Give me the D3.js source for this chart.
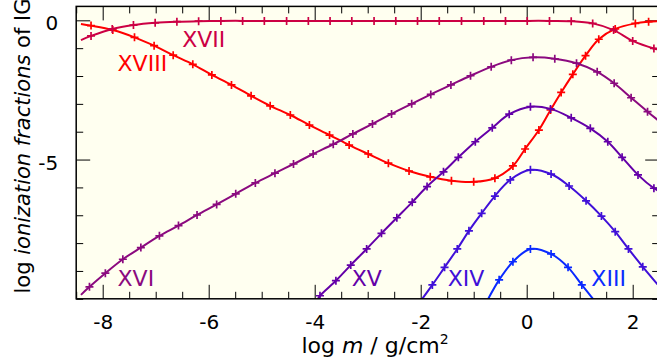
<!DOCTYPE html>
<html>
<head>
<meta charset="utf-8">
<script src="https://cdn.jsdelivr.net/npm/d3@7/dist/d3.min.js"></script>
<style>
  html, body { margin: 0; padding: 0; background: #ffffff; }
  svg { display: block; }
  text { font-family: "DejaVu Sans", sans-serif; }
</style>
</head>
<body>
<svg id="chart" width="657" height="360"></svg>
<script>
// ---- data: log m (g/cm^2) vs log ionization fraction, one array per ion ----
const xMajorTicks = [-8, -6, -4, -2, 0, 2];
const xTickLabels = ["-8", "-6", "-4", "-2", "0", "2"];
const yMajorTicks = [0, -5];
const yTickLabels = ["0", "-5"];

const ionNames = ["XVIII", "XVII", "XVI", "XV", "XIV", "XIII"];

const ionXVIII = [
  [-8.41, -0.13], [-8.22, -0.19], [-7.81, -0.35], [-7.40, -0.61], [-7.03, -0.91],
  [-6.67, -1.25], [-6.30, -1.58], [-5.94, -1.96], [-5.57, -2.32], [-5.20, -2.71],
  [-4.84, -3.07], [-4.46, -3.40], [-4.10, -3.76], [-3.72, -4.12], [-3.35, -4.48],
  [-2.99, -4.80], [-2.61, -5.13], [-2.22, -5.41], [-1.82, -5.62], [-1.42, -5.76],
  [-1.00, -5.80], [-0.60, -5.67], [-0.26, -5.23], [-0.03, -4.62], [0.23, -3.94],
  [0.45, -3.22], [0.65, -2.59], [0.87, -1.94], [1.11, -1.27], [1.36, -0.68],
  [1.67, -0.31], [2.05, -0.11], [2.30, -0.05], [2.50, -0.03]
];
const ionXVII = [
  [-8.41, -0.71], [-8.22, -0.56], [-7.82, -0.31], [-7.42, -0.17], [-7.01, -0.09],
  [-6.60, -0.05], [-6.19, -0.03], [-5.77, -0.02], [-5.36, -0.02], [-4.95, -0.02],
  [-4.53, -0.02], [-4.12, -0.02], [-3.71, -0.02], [-3.30, -0.02], [-2.88, -0.02],
  [-2.47, -0.02], [-2.06, -0.02], [-1.65, -0.02], [-1.23, -0.02], [-0.81, -0.02],
  [-0.40, -0.02], [0.01, -0.02], [0.43, -0.02], [0.84, -0.03], [1.245, -0.11],
  [1.64, -0.35], [2.00, -0.74], [2.40, -1.01], [2.50, -1.05]
];
const ionXVI = [
  [-8.41, -9.86], [-8.25, -9.57], [-7.95, -9.08], [-7.62, -8.58], [-7.28, -8.16],
  [-6.93, -7.74], [-6.57, -7.37], [-6.22, -6.99], [-5.85, -6.61], [-5.49, -6.23],
  [-5.12, -5.84], [-4.75, -5.49], [-4.40, -5.16], [-4.03, -4.80], [-3.65, -4.45],
  [-3.28, -4.08], [-2.91, -3.72], [-2.55, -3.36], [-2.17, -3.00], [-1.81, -2.66],
  [-1.43, -2.32], [-1.06, -1.99], [-0.67, -1.67], [-0.29, -1.43], [0.12, -1.33],
  [0.53, -1.38], [0.94, -1.54], [1.33, -1.85], [1.65, -2.26], [1.97, -2.78],
  [2.28, -3.28], [2.50, -3.62]
];
const ionXV = [
  [-3.95, -10.05], [-3.90, -9.89], [-3.60, -9.35], [-3.32, -8.79], [-3.02, -8.21],
  [-2.74, -7.65], [-2.45, -7.09], [-2.16, -6.53], [-1.88, -5.97], [-1.57, -5.44],
  [-1.29, -4.92], [-0.97, -4.36], [-0.65, -3.86], [-0.33, -3.37], [0.07, -3.10],
  [0.45, -3.18], [0.84, -3.50], [1.20, -3.88], [1.53, -4.36], [1.80, -4.92],
  [2.10, -5.55], [2.40, -6.03], [2.50, -6.14]
];
const ionXIV = [
  [-1.99, -10.05], [-1.78, -9.50], [-1.55, -8.87], [-1.31, -8.21], [-1.09, -7.56],
  [-0.85, -6.93], [-0.60, -6.31], [-0.31, -5.73], [0.07, -5.37], [0.46, -5.52],
  [0.80, -5.95], [1.12, -6.48], [1.41, -7.03], [1.67, -7.59], [1.92, -8.21],
  [2.19, -8.85], [2.50, -9.55]
];
const ionXIII = [
  [-0.74, -10.05], [-0.52, -9.32], [-0.26, -8.67], [0.07, -8.21], [0.46, -8.39],
  [0.78, -8.87], [1.04, -9.50], [1.27, -10.05]
];

// label anchors (data units) for each ion name
const ionLabelAt = [
  [-7.72, -1.81], [-6.50, -0.94], [-7.72, -9.54], [-3.30, -9.54], [-1.49, -9.54], [1.22, -9.54]
];

// ---- styling ----
const ionColors = ["#ff0000", "#cc0044", "#8b0a7f", "#6400a8", "#4010d8", "#0a2aff"];
const series = [ionXVIII, ionXVII, ionXVI, ionXV, ionXIV, ionXIII];

const W = 657, H = 360;
const plotLeft = 76.2, plotRight = 659.2, plotTop = 6.4, plotBottom = 298.8;

const x = d3.scaleLinear().domain([-8.5, 2.5]).range([plotLeft, plotRight]);
const y = d3.scaleLinear().domain([-10, 0.5]).range([plotBottom, plotTop]);

const svg = d3.select("#chart");

svg.append("rect").attr("x", 0).attr("y", 0).attr("width", W).attr("height", H).attr("fill", "#ffffff");
svg.append("rect")
  .attr("x", plotLeft).attr("y", plotTop)
  .attr("width", plotRight - plotLeft).attr("height", plotBottom - plotTop)
  .attr("fill", "#fffff0");

svg.append("clipPath").attr("id", "plotclip")
  .append("rect")
  .attr("x", plotLeft).attr("y", plotTop)
  .attr("width", plotRight - plotLeft).attr("height", plotBottom - plotTop);

// ---- axes: inward ticks on all four sides ----
const xMinor = d3.range(-8.5, 2.51, 0.5).filter(v => !xMajorTicks.includes(v));
const yMinor = d3.range(-10, 0.01, 1).filter(v => !yMajorTicks.includes(v));

function styleAxis(g) {
  g.select(".domain").remove();
  g.selectAll(".tick line").attr("stroke", "#000").attr("stroke-width", 1);
}

// bottom
svg.append("g").attr("transform", `translate(0,${plotBottom})`)
  .call(d3.axisBottom(x).tickValues(xMinor).tickSize(-7).tickFormat(""))
  .call(styleAxis);
const xAxisMajor = svg.append("g").attr("transform", `translate(0,${plotBottom})`)
  .call(d3.axisBottom(x).tickValues(xMajorTicks).tickSize(-14).tickPadding(16)
        .tickFormat((d, i) => xTickLabels[i]))
  .call(styleAxis);
xAxisMajor.selectAll("text").attr("font-family", "DejaVu Sans").attr("font-size", 20).attr("fill", "#000");

// top
svg.append("g").attr("transform", `translate(0,${plotTop})`)
  .call(d3.axisTop(x).tickValues(xMinor).tickSize(-7).tickFormat(""))
  .call(styleAxis);
svg.append("g").attr("transform", `translate(0,${plotTop})`)
  .call(d3.axisTop(x).tickValues(xMajorTicks).tickSize(-14).tickFormat(""))
  .call(styleAxis);

// left
svg.append("g").attr("transform", `translate(${plotLeft},0)`)
  .call(d3.axisLeft(y).tickValues(yMinor).tickSize(-7).tickFormat(""))
  .call(styleAxis);
const yAxisMajor = svg.append("g").attr("transform", `translate(${plotLeft},0)`)
  .call(d3.axisLeft(y).tickValues(yMajorTicks).tickSize(-14).tickPadding(18)
        .tickFormat((d, i) => yTickLabels[i]))
  .call(styleAxis);
yAxisMajor.selectAll("text").attr("font-family", "DejaVu Sans").attr("font-size", 20)
  .attr("fill", "#000").attr("dy", "0.48em");

// right
svg.append("g").attr("transform", `translate(${plotRight},0)`)
  .call(d3.axisRight(y).tickValues(yMinor).tickSize(-7).tickFormat(""))
  .call(styleAxis);
svg.append("g").attr("transform", `translate(${plotRight},0)`)
  .call(d3.axisRight(y).tickValues(yMajorTicks).tickSize(-14).tickFormat(""))
  .call(styleAxis);

// ---- curves with + markers ----
const line = d3.line()
  .x(d => x(d[0])).y(d => y(d[1]))
  .curve(d3.curveCatmullRom.alpha(0.5));

const curves = svg.append("g").attr("clip-path", "url(#plotclip)");

series.forEach((pts, i) => {
  const g = curves.append("g");
  g.append("path")
    .attr("d", line(pts))
    .attr("fill", "none")
    .attr("stroke", ionColors[i])
    .attr("stroke-width", 2)
    .attr("stroke-linejoin", "round");
  // sample points (line ends excluded) carry a + marker
  g.selectAll("path.mark")
    .data(pts.slice(1, -1))
    .join("path")
    .attr("class", "mark")
    .attr("transform", d => `translate(${x(d[0])},${y(d[1])})`)
    .attr("d", "M-4,0H4M0,-4V4")
    .attr("stroke", ionColors[i])
    .attr("stroke-width", 1.7)
    .attr("fill", "none");
});

// ion labels
svg.append("g").selectAll("text")
  .data(ionNames)
  .join("text")
  .attr("x", (d, i) => x(ionLabelAt[i][0]))
  .attr("y", (d, i) => y(ionLabelAt[i][1]))
  .attr("font-size", 22)
  .attr("fill", (d, i) => ionColors[i])
  .text(d => d);

// frame
svg.append("rect")
  .attr("x", plotLeft).attr("y", plotTop)
  .attr("width", plotRight - plotLeft).attr("height", plotBottom - plotTop)
  .attr("fill", "none").attr("stroke", "#000").attr("stroke-width", 1.5);

// axis titles
const xt = svg.append("text")
  .attr("x", 375).attr("y", 353)
  .attr("text-anchor", "middle")
  .attr("font-size", 22).attr("fill", "#000");
xt.append("tspan").text("log ");
xt.append("tspan").attr("font-style", "italic").text("m");
xt.append("tspan").text(" / g/cm");
xt.append("tspan").attr("font-size", 14).attr("dy", -9).text("2");

const yt = svg.append("text")
  .attr("transform", "translate(30,293.5) rotate(-90)")
  .attr("text-anchor", "start")
  .attr("font-size", 21).attr("fill", "#000");
yt.append("tspan").text("log ");
yt.append("tspan").attr("font-style", "italic").text("ionization fractions");
yt.append("tspan").text(" of IG");
</script>
</body>
</html>
